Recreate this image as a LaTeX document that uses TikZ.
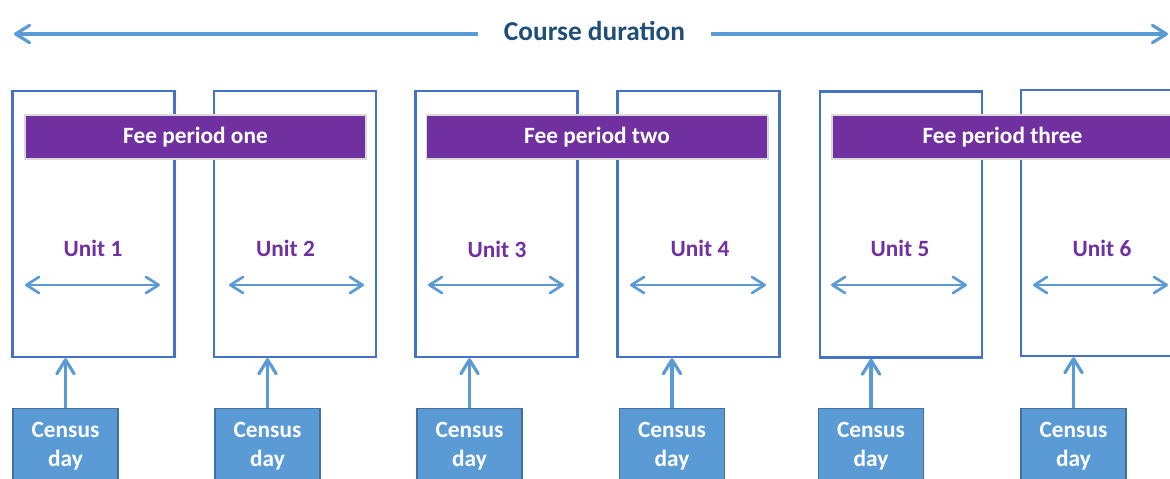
\documentclass[tikz,border=0pt]{standalone}
\usepackage{fontspec}
\setmainfont{Carlito}
\usetikzlibrary{arrows.meta,shadows}

\definecolor{lineblue}{HTML}{5B9BD5}
\definecolor{boxblue}{HTML}{4472C4}
\definecolor{feepurple}{HTML}{7030A0}
\definecolor{titleblue}{HTML}{1F4E79}
\definecolor{censusedge}{HTML}{41719C}

\tikzset{
    unitbox/.style={draw=boxblue, line width=1.8pt, minimum width=121.5pt, minimum height=199.5pt, inner sep=0pt},
    feebar/.style={fill=feepurple, draw=white!85!black, line width=0.8pt, text=white,
        minimum width=255.75pt, minimum height=33pt, font=\fontsize{17.5}{21}\selectfont\bfseries,
        drop shadow={shadow xshift=0.8pt, shadow yshift=-0.8pt, opacity=0.35}},
    unitlabel/.style={text=feepurple, font=\fontsize{17.5}{21}\selectfont\bfseries},
    census/.style={anchor=north, fill=lineblue, draw=censusedge, line width=0.8pt, text=white, align=center,
        minimum width=78.75pt, inner ysep=10.5pt, font=\fontsize{17.5}{21.75}\selectfont\bfseries,
        drop shadow={shadow xshift=0.6pt, shadow yshift=-0.6pt, opacity=0.25}},
    course/.style={draw=lineblue, line width=2.4pt, -{Straight Barb[round, length=10.5pt, width=13pt]}},
    span/.style={draw=lineblue, line width=2pt, {Straight Barb[round, length=9.5pt, width=12pt]}-{Straight Barb[round, length=9.5pt, width=12pt]}},
    feed/.style={draw=lineblue, line width=2.4pt, -{Straight Barb[round, length=10.5pt, width=13pt]}}
}

\begin{document}
\begin{tikzpicture}[x=0.75pt, y=-0.75pt]
    \useasboundingbox (0,0) rectangle (1170,478);
    \clip (0,0) rectangle (1170,478);

    % course duration
    \node[font=\fontsize{20.5}{24}\selectfont\bfseries, text=titleblue, inner xsep=19.5pt] (dur) at (594.5,31) {Course duration};
    \coordinate (durL) at (14,34);
    \coordinate (durR) at (1168,34);
    \draw[course] (durL -| dur.west) -- (durL);
    \draw[course] (durR -| dur.east) -- (durR);

    % units
    \node[unitbox] (u1) at (93.5,224) {};
    \node[unitbox] (u2) at (295,224) {};
    \node[unitbox] (u3) at (496.5,224) {};
    \node[unitbox] (u4) at (698.5,224) {};
    \node[unitbox] (u5) at (901,224.5) {};
    \node[unitbox] (u6) at (1102,223) {};

    % fee periods
    \node[feebar] (fee1) at (195.5,137) {Fee period one};
    \node[feebar] (fee2) at (597,137) {Fee period two};
    \node[feebar] (fee3) at (1002.5,137) {Fee period three};

    \node[unitlabel] (t1) at (93,248) {Unit 1};
    \node[unitlabel] (t2) at (285.5,248) {Unit 2};
    \node[unitlabel] (t3) at (497,249) {Unit 3};
    \node[unitlabel] (t4) at (700,248) {Unit 4};
    \node[unitlabel] (t5) at (900,248) {Unit 5};
    \node[unitlabel] (t6) at (1102,248) {Unit 6};

    % unit spans
    \coordinate (s1a) at (25,285);   \coordinate (s1b) at (160,285);
    \coordinate (s2a) at (229,285);  \coordinate (s2b) at (364,285);
    \coordinate (s3a) at (428,285);  \coordinate (s3b) at (564,285);
    \coordinate (s4a) at (630,285);  \coordinate (s4b) at (766,285);
    \coordinate (s5a) at (831,285);  \coordinate (s5b) at (967,285);
    \coordinate (s6a) at (1033,285); \coordinate (s6b) at (1168,285);
    \draw[span] (s1a) -- (s1b);
    \draw[span] (s2a) -- (s2b);
    \draw[span] (s3a) -- (s3b);
    \draw[span] (s4a) -- (s4b);
    \draw[span] (s5a) -- (s5b);
    \draw[span] (s6a) -- (s6b);

    % census days
    \node[census] (c1) at (65.5,408) {Census\\day};
    \node[census] (c2) at (267.5,408) {Census\\day};
    \node[census] (c3) at (469.5,408) {Census\\day};
    \node[census] (c4) at (672,408) {Census\\day};
    \node[census] (c5) at (871,408) {Census\\day};
    \node[census] (c6) at (1073.5,408) {Census\\day};

    \draw[feed] (c1.north) -- (c1.north |- u1.south);
    \draw[feed] (c2.north) -- (c2.north |- u2.south);
    \draw[feed] (c3.north) -- (c3.north |- u3.south);
    \draw[feed] (c4.north) -- (c4.north |- u4.south);
    \draw[feed] (c5.north) -- (c5.north |- u5.south);
    \draw[feed] (c6.north) -- (c6.north |- u6.south);
\end{tikzpicture}
\end{document}
